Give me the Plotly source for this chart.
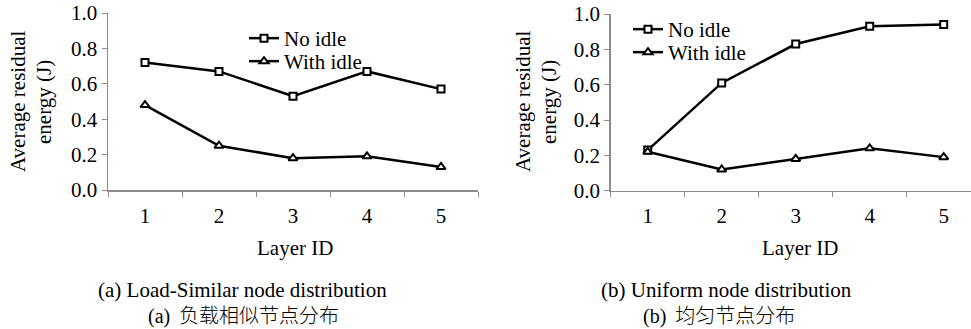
import plotly.graph_objects as go

layers = ["1", "2", "3", "4", "5"]
a_no_idle = [0.72, 0.67, 0.53, 0.67, 0.57]
a_with_idle = [0.48, 0.25, 0.18, 0.19, 0.13]
b_no_idle = [0.23, 0.61, 0.83, 0.93, 0.94]
b_with_idle = [0.22, 0.12, 0.18, 0.24, 0.19]
y_ticks = [0.0, 0.2, 0.4, 0.6, 0.8, 1.0]

W, H = 971, 329
SERIF = "Liberation Serif, Times New Roman, serif"
CJK = "Noto Sans CJK SC"

def px_x(v):
    return v / W

def px_y(v):
    return 1 - v / H

sq = dict(symbol="square", size=7, color="white", line=dict(color="black", width=2))
tri = dict(symbol="triangle-up", size=8, color="white", line=dict(color="black", width=2))
ln = dict(color="black", width=2.5)

fig = go.Figure()
fig.add_trace(go.Scatter(x=layers, y=a_no_idle, mode="lines+markers", name="No idle",
                         line=ln, marker=sq, xaxis="x", yaxis="y", legend="legend"))
fig.add_trace(go.Scatter(x=layers, y=a_with_idle, mode="lines+markers", name="With idle",
                         line=ln, marker=tri, xaxis="x", yaxis="y", legend="legend2"))
fig.add_trace(go.Scatter(x=layers, y=b_no_idle, mode="lines+markers", name="No idle",
                         line=ln, marker=sq, xaxis="x2", yaxis="y2", legend="legend3"))
fig.add_trace(go.Scatter(x=layers, y=b_with_idle, mode="lines+markers", name="With idle",
                         line=ln, marker=tri, xaxis="x2", yaxis="y2", legend="legend4"))

axis_common_x = dict(type="category", tickson="boundaries", showline=True, linecolor="#8c8c8c",
                     linewidth=1.5, ticks="outside", ticklen=5, tickcolor="#8c8c8c", showgrid=False,
                     zeroline=False, tickfont=dict(family=SERIF, size=21, color="black"),
                     ticklabelstandoff=6, fixedrange=True, automargin=False)
axis_common_y = dict(range=[0, 1], tickvals=y_ticks, tickformat=".1f", showline=True,
                     linecolor="#8c8c8c", linewidth=1.5, ticks="outside", ticklen=5,
                     tickcolor="#8c8c8c", showgrid=False, zeroline=False,
                     tickfont=dict(family=SERIF, size=21, color="black"), fixedrange=True,
                     automargin=False)

def leg(x, top):
    return dict(x=px_x(x), y=px_y(top), xanchor="left", yanchor="top",
                font=dict(family=SERIF, size=21, color="black"), bgcolor="rgba(0,0,0,0)",
                itemwidth=30)

fig.update_layout(
    width=W, height=H,
    margin=dict(l=0, r=0, t=0, b=0),
    paper_bgcolor="white", plot_bgcolor="white",
    xaxis=dict(domain=[px_x(108), px_x(478)], range=[-0.5, 4.5], anchor="y", **axis_common_x),
    yaxis=dict(domain=[px_y(190), px_y(13)], anchor="x", **axis_common_y),
    xaxis2=dict(domain=[px_x(610.7), 1.0], range=[-0.5, -0.5 + (W - 610.7) / 74.0], anchor="y2",
                **axis_common_x),
    yaxis2=dict(domain=[px_y(190.7), px_y(14)], anchor="x2", **axis_common_y),
    legend=leg(244, 18),
    legend2=leg(244, 41),
    legend3=leg(628, 9),
    legend4=leg(628, 32),
    showlegend=True,
)

def ann(text, x, y, size=21, family=SERIF, angle=0, weight="normal"):
    fig.add_annotation(text=text, x=px_x(x), y=px_y(y), xref="paper", yref="paper",
                       xanchor="center", yanchor="middle", showarrow=False, textangle=angle,
                       font=dict(family=family, size=size, color="black", weight=weight))

# Left panel texts
ann("Average residual", 18, 102, angle=-90)
ann("energy (J)", 44, 102, angle=-90)
ann("Layer ID", 295, 248)
ann("(a) Load-Similar node distribution", 243, 290)
ann("<span style='font-family:Liberation Serif'>(a)</span>  负载相似节点分布", 244, 314.5,
    size=20, family=CJK, weight=300)

# Right panel texts
ann("Average residual", 523, 102, angle=-90)
ann("energy (J)", 549, 102, angle=-90)
ann("Layer ID", 800, 248)
ann("(b) Uniform node distribution", 726, 290)
ann("<span style='font-family:Liberation Serif'>(b)</span>  均匀节点分布", 719, 314.5,
    size=20, family=CJK, weight=300)

fig.write_html(
    "out.html",
    config={"displayModeBar": False, "staticPlot": True},
    post_script="document.body.style.margin='0';document.body.style.overflow='hidden';",
)
